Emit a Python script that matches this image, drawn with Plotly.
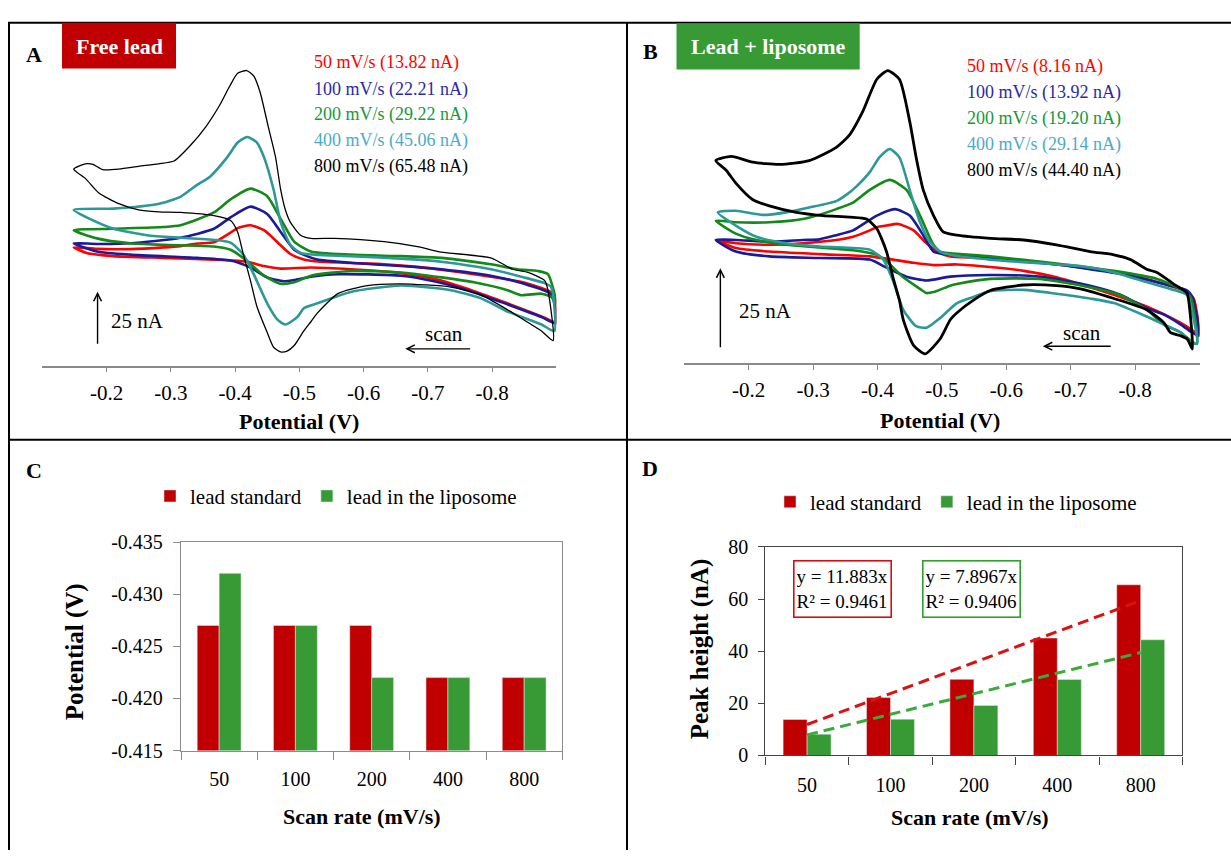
import plotly.graph_objects as go

W, H = 1231, 861
SERIF = "Liberation Serif, Times New Roman, Times, serif"

# ---------------- data ----------------
# Panel A (free lead): cyclic voltammograms, potential (V) and current (nA)
A_V_50 = [-0.895, -0.850, -0.798, -0.736, -0.684, -0.632, -0.580, -0.528, -0.507, -0.486, -0.466, -0.445, -0.424, -0.404, -0.393, -0.367, -0.341, -0.315, -0.289, -0.237, -0.185, -0.149, -0.169, -0.211, -0.289, -0.367, -0.393, -0.419, -0.445, -0.471, -0.518, -0.580, -0.658, -0.710, -0.772, -0.824, -0.877, -0.900, -0.895]
A_I_50 = [33.6, 38.8, 41.5, 44.2, 46.1, 47.3, 47.9, 48.6, 49.5, 52.1, 57.6, 63.2, 65.5, 64.2, 62.1, 57.6, 57.0, 55.8, 55.2, 54.4, 54.5, 55.2, 52.6, 51.1, 50.3, 49.5, 49.1, 48.5, 46.5, 45.3, 45.8, 45.0, 43.2, 40.5, 34.8, 29.1, 23.0, 20.3, 33.6]

A_V_100 = [-0.892, -0.850, -0.798, -0.721, -0.658, -0.580, -0.528, -0.512, -0.492, -0.471, -0.450, -0.424, -0.393, -0.367, -0.315, -0.237, -0.185, -0.149, -0.185, -0.237, -0.341, -0.393, -0.424, -0.450, -0.476, -0.492, -0.518, -0.560, -0.658, -0.710, -0.772, -0.824, -0.877, -0.900, -0.892]
A_I_100 = [33.3, 38.2, 42.0, 45.0, 46.5, 48.0, 49.5, 51.1, 54.1, 62.4, 70.8, 74.2, 69.2, 63.9, 59.7, 57.1, 56.8, 57.1, 53.3, 51.8, 50.3, 49.1, 45.8, 41.2, 39.4, 40.0, 41.5, 42.7, 42.0, 39.4, 34.2, 28.6, 22.7, 19.7, 33.3]

A_V_200 = [-0.900, -0.887, -0.871, -0.840, -0.798, -0.721, -0.658, -0.580, -0.518, -0.492, -0.471, -0.450, -0.424, -0.393, -0.367, -0.315, -0.289, -0.211, -0.149, -0.185, -0.237, -0.289, -0.367, -0.393, -0.419, -0.445, -0.471, -0.492, -0.518, -0.580, -0.658, -0.721, -0.772, -0.824, -0.845, -0.877, -0.892, -0.900]
A_I_200 = [29.1, 42.7, 44.2, 45.0, 47.3, 50.3, 51.1, 51.8, 53.3, 57.9, 68.5, 79.1, 82.6, 77.6, 71.5, 65.5, 64.7, 63.9, 63.2, 59.4, 57.1, 56.4, 55.6, 54.1, 48.8, 42.0, 38.2, 38.9, 42.0, 44.2, 43.5, 41.2, 38.9, 35.2, 32.9, 33.6, 32.1, 29.1]

A_V_400 = [-0.892, -0.882, -0.850, -0.798, -0.721, -0.684, -0.580, -0.502, -0.486, -0.471, -0.460, -0.445, -0.434, -0.419, -0.404, -0.388, -0.361, -0.341, -0.315, -0.278, -0.211, -0.149, -0.174, -0.211, -0.263, -0.315, -0.372, -0.393, -0.413, -0.429, -0.450, -0.466, -0.478, -0.497, -0.507, -0.528, -0.580, -0.658, -0.736, -0.783, -0.824, -0.877, -0.897, -0.892]
A_I_400 = [36.7, 38.5, 41.2, 45.0, 48.5, 49.5, 51.1, 52.6, 56.4, 67.0, 82.1, 97.3, 104.1, 106.7, 104.1, 97.3, 88.2, 84.4, 78.8, 75.3, 73.3, 72.7, 68.5, 63.9, 60.9, 59.7, 58.6, 57.4, 51.8, 42.7, 29.1, 21.5, 19.2, 22.7, 26.8, 29.1, 34.4, 37.4, 35.2, 31.4, 25.3, 19.2, 16.2, 36.7]

A_V_800 = [-0.887, -0.882, -0.856, -0.832, -0.798, -0.721, -0.684, -0.632, -0.554, -0.518, -0.502, -0.486, -0.478, -0.471, -0.463, -0.451, -0.439, -0.429, -0.418, -0.404, -0.392, -0.376, -0.355, -0.330, -0.305, -0.281, -0.250, -0.219, -0.194, -0.179, -0.167, -0.149,
           -0.167, -0.188, -0.219, -0.250, -0.281, -0.315, -0.367, -0.393, -0.404, -0.413, -0.424, -0.434, -0.450, -0.460, -0.471, -0.481, -0.492, -0.507, -0.518, -0.528, -0.560, -0.606, -0.658, -0.736, -0.783, -0.824, -0.861, -0.877, -0.895, -0.887]
A_I_800 = [35.2, 39.7, 43.5, 45.0, 50.3, 53.0, 55.6, 57.9, 59.4, 59.4, 60.9, 67.0, 73.0, 82.1, 97.3, 112.4, 127.6, 135.2, 137.7, 136.4, 130.6, 121.5, 111.7, 102.6, 95.5, 94.2, 93.0, 91.7, 91.5, 93.9, 94.2, 91.7,
           87.4, 80.6, 75.6, 72.7, 71.8, 71.5, 70.0, 67.7, 62.4, 51.8, 39.7, 27.6, 15.5, 8.6, 6.4, 6.8, 9.4, 16.2, 20.5, 24.5, 33.6, 37.4, 38.2, 36.7, 32.9, 26.1, 19.2, 16.2, 11.7, 35.2]

# Panel B (lead + liposome)
B_V_50 = [-0.891, -0.881, -0.845, -0.777, -0.678, -0.575, -0.513, -0.497, -0.476, -0.456, -0.432, -0.414, -0.399, -0.388, -0.362, -0.336, -0.284, -0.232, -0.180, -0.149, -0.180, -0.232, -0.310, -0.388, -0.424, -0.456, -0.487, -0.523, -0.575, -0.627, -0.678, -0.730, -0.777, -0.818, -0.871, -0.891, -0.899, -0.891]
B_I_50 = [20.2, 22.2, 24.7, 28.1, 30.8, 32.8, 33.3, 34.3, 37.4, 41.4, 43.4, 42.9, 42.4, 41.4, 39.4, 38.4, 37.4, 36.9, 37.4, 38.4, 35.9, 34.8, 34.0, 33.3, 32.3, 31.3, 30.6, 30.8, 30.0, 28.8, 26.8, 23.7, 20.7, 17.7, 12.6, 10.1, 9.1, 20.2]

B_V_100 = [-0.889, -0.881, -0.845, -0.793, -0.715, -0.678, -0.575, -0.513, -0.487, -0.471, -0.450, -0.427, -0.399, -0.362, -0.336, -0.310, -0.284, -0.232, -0.180, -0.149, -0.180, -0.232, -0.310, -0.388, -0.414, -0.445, -0.476, -0.513, -0.575, -0.652, -0.730, -0.777, -0.818, -0.845, -0.871, -0.889, -0.899, -0.889]
B_I_100 = [20.7, 22.7, 24.7, 27.3, 29.8, 30.8, 32.8, 33.8, 34.8, 39.9, 46.0, 48.0, 46.0, 41.4, 39.9, 38.6, 38.4, 37.9, 38.4, 38.4, 34.8, 33.3, 32.8, 32.3, 29.8, 27.0, 25.8, 27.0, 27.5, 27.0, 24.2, 21.4, 17.2, 15.2, 12.1, 9.6, 8.6, 20.7]

B_V_200 = [-0.886, -0.871, -0.834, -0.767, -0.678, -0.575, -0.513, -0.497, -0.487, -0.466, -0.445, -0.419, -0.388, -0.362, -0.336, -0.284, -0.232, -0.180, -0.149, -0.180, -0.212, -0.258, -0.310, -0.362, -0.399, -0.414, -0.440, -0.466, -0.476, -0.487, -0.513, -0.523, -0.575, -0.652, -0.730, -0.777, -0.818, -0.845, -0.871, -0.886, -0.896, -0.886]
B_I_200 = [20.7, 23.2, 26.3, 28.8, 31.1, 33.3, 34.3, 34.8, 36.9, 46.0, 54.0, 57.1, 54.0, 50.0, 48.0, 44.9, 43.9, 43.9, 44.4, 40.4, 38.4, 36.9, 36.1, 35.2, 33.8, 31.8, 26.8, 23.2, 21.9, 22.2, 24.2, 24.7, 26.3, 26.3, 23.7, 21.2, 16.7, 12.1, 9.6, 7.1, 6.1, 20.7]

B_V_400 = [-0.881, -0.871, -0.818, -0.767, -0.715, -0.678, -0.575, -0.513, -0.497, -0.481, -0.466, -0.450, -0.434, -0.419, -0.403, -0.388, -0.367, -0.352, -0.336, -0.294, -0.258, -0.222, -0.180, -0.152, -0.180, -0.212, -0.258, -0.310, -0.362, -0.388, -0.409, -0.424, -0.440, -0.460, -0.476, -0.497, -0.523, -0.549, -0.575, -0.627, -0.678, -0.730, -0.767, -0.818, -0.845, -0.871, -0.886, -0.896, -0.881]
B_I_400 = [21.2, 22.2, 25.3, 28.3, 30.3, 30.8, 32.3, 33.8, 34.8, 37.9, 43.9, 54.0, 64.1, 66.7, 64.1, 59.5, 55.0, 52.5, 50.5, 48.5, 47.0, 46.2, 47.5, 47.0, 42.9, 39.4, 37.4, 36.4, 35.9, 35.4, 32.3, 25.8, 16.7, 11.6, 11.1, 14.1, 18.7, 20.7, 22.5, 22.9, 21.7, 20.2, 18.8, 14.6, 12.1, 9.6, 6.6, 6.1, 21.2]

B_V_800 = [-0.881, -0.876, -0.860, -0.834, -0.818, -0.793, -0.767, -0.730, -0.678, -0.627, -0.575, -0.523, -0.502, -0.487, -0.471, -0.460, -0.450, -0.434, -0.416, -0.399, -0.377, -0.357, -0.336, -0.294, -0.248, -0.206, -0.173, -0.149,
           -0.165, -0.180, -0.206, -0.232, -0.274, -0.315, -0.357, -0.383, -0.399, -0.414, -0.424, -0.434, -0.440, -0.456, -0.474, -0.497, -0.513, -0.523, -0.549, -0.575, -0.627, -0.678, -0.715, -0.767, -0.818, -0.845, -0.855, -0.871, -0.881, -0.889, -0.881]
B_I_800 = [21.7, 22.7, 24.7, 28.3, 29.3, 32.3, 33.8, 34.8, 36.9, 38.4, 38.9, 39.9, 40.9, 46.0, 54.0, 64.1, 75.3, 88.4, 91.1, 88.4, 78.3, 71.2, 67.2, 63.1, 61.9, 62.6, 64.4, 63.1,
           60.1, 56.1, 51.0, 49.0, 47.0, 46.0, 45.5, 44.9, 41.9, 34.8, 26.8, 19.7, 13.6, 5.6, 3.0, 7.6, 13.6, 15.7, 19.7, 22.7, 24.4, 24.2, 23.2, 20.2, 16.7, 12.6, 9.6, 8.6, 7.6, 4.5, 21.7]

cv_line_colors = ["#ff0000", "#1a1a9a", "#138a18", "#2c9898", "#000000"]
cv_text_colors = ["#ff0000", "#2a2aa8", "#16993a", "#4bacc6", "#000000"]
A_labels = ["50 mV/s (13.82 nA)", "100 mV/s (22.21 nA)", "200 mV/s (29.22 nA)", "400 mV/s (45.06 nA)", "800 mV/s (65.48 nA)"]
B_labels = ["50 mV/s (8.16 nA)", "100 mV/s (13.92 nA)", "200 mV/s (19.20 nA)", "400 mV/s (29.14 nA)", "800 mV/s (44.40 nA)"]
potential_ticks = [-0.2, -0.3, -0.4, -0.5, -0.6, -0.7, -0.8]
potential_ticktext = ["-0.2", "-0.3", "-0.4", "-0.5", "-0.6", "-0.7", "-0.8"]

# Panels C and D
scan_rates = ["50", "100", "200", "400", "800"]
peak_potential_standard = [-0.427, -0.427, -0.427, -0.422, -0.422]
peak_potential_liposome = [-0.432, -0.427, -0.422, -0.422, -0.422]
C_ticks = [-0.435, -0.430, -0.425, -0.420, -0.415]
C_ticktext = ["-0.435", "-0.430", "-0.425", "-0.420", "-0.415"]
peak_height_standard = [13.82, 22.21, 29.22, 45.06, 65.48]
peak_height_liposome = [8.16, 13.92, 19.20, 29.14, 44.40]
slope_standard, r2_standard = 11.883, 0.9461
slope_liposome, r2_liposome = 7.8967, 0.9406

RED_BAR = "#c00000"
GREEN_BAR = "#379a35"

# ---------------- helpers ----------------
def fx(p):
    return p / W

def fy(p):
    return 1 - p / H

fig = go.Figure()

def add_cv(V, I, color, width, xa, ya):
    fig.add_trace(go.Scatter(x=V, y=I, mode="lines",
                             line=dict(color=color, width=width, shape="spline", smoothing=0.6),
                             xaxis=xa, yaxis=ya, showlegend=False, hoverinfo="skip"))

A_curves = [(A_V_50, A_I_50), (A_V_100, A_I_100), (A_V_200, A_I_200), (A_V_400, A_I_400), (A_V_800, A_I_800)]
B_curves = [(B_V_50, B_I_50), (B_V_100, B_I_100), (B_V_200, B_I_200), (B_V_400, B_I_400), (B_V_800, B_I_800)]
for k, (V, I) in enumerate(A_curves):
    add_cv(V, I, cv_line_colors[k], 1.3 if k == 4 else 2.6, "x", "y")
for k, (V, I) in enumerate(B_curves):
    add_cv(V, I, cv_line_colors[k], 2.8 if k == 4 else 2.6, "x2", "y2")

# Panel C bars
fig.add_trace(go.Bar(x=scan_rates, y=peak_potential_standard, name="lead standard", marker_color=RED_BAR,
                     xaxis="x3", yaxis="y3", legend="legend", hoverinfo="skip"))
fig.add_trace(go.Bar(x=scan_rates, y=peak_potential_liposome, name="lead in the liposome", marker_color=GREEN_BAR,
                     xaxis="x3", yaxis="y3", legend="legend", hoverinfo="skip"))
# Panel D bars
fig.add_trace(go.Bar(x=scan_rates, y=peak_height_standard, name="lead standard", marker_color=RED_BAR,
                     xaxis="x4", yaxis="y4", legend="legend2", hoverinfo="skip"))
fig.add_trace(go.Bar(x=scan_rates, y=peak_height_liposome, name="lead in the liposome", marker_color=GREEN_BAR,
                     xaxis="x4", yaxis="y4", legend="legend2", hoverinfo="skip"))
# Panel D linear trend lines (y = slope * x, x = category index)
ends = [scan_rates[0], scan_rates[-1]]
fig.add_trace(go.Scatter(x=ends, y=[slope_standard * 1, slope_standard * len(scan_rates)], mode="lines",
                         line=dict(color="#dd1111", width=3, dash="11px,6px"), xaxis="x4", yaxis="y4",
                         showlegend=False, hoverinfo="skip"))
fig.add_trace(go.Scatter(x=ends, y=[slope_liposome * 1, slope_liposome * len(scan_rates)], mode="lines",
                         line=dict(color="#3aab3a", width=3, dash="11px,6px"), xaxis="x4", yaxis="y4",
                         showlegend=False, hoverinfo="skip"))

# ---------------- axes ----------------
cv_x = dict(range=[-0.1, -0.9], showline=True, linecolor="#8a8a8a", linewidth=1.5, ticks="outside",
            ticklen=5, tickwidth=1.2, tickcolor="#8a8a8a", tickvals=potential_ticks, ticktext=potential_ticktext,
            tickfont=dict(family=SERIF, size=21, color="black"), showgrid=False, zeroline=False,
            ticklabelstandoff=2)
bar_common = dict(showline=True, mirror=True, ticks="outside", showgrid=False, zeroline=False,
                  tickfont=dict(family=SERIF, size=20, color="black"))

fig.update_layout(
    width=W, height=H, margin=dict(l=0, r=0, t=0, b=0), autosize=False,
    font=dict(family=SERIF, color="black"),
    paper_bgcolor="white", plot_bgcolor="white",
    bargap=0.425, bargroupgap=0,
    xaxis=dict(domain=[fx(42.3), fx(556.3)], anchor="y", **cv_x),
    yaxis=dict(domain=[fy(364), fy(40)], range=[0, 147.3], visible=False, anchor="x"),
    xaxis2=dict(domain=[fx(684.3), fx(1199.5)], anchor="y2", **cv_x),
    yaxis2=dict(domain=[fy(361.7), fy(40)], range=[0, 97.5], visible=False, anchor="x2"),
    xaxis3=dict(domain=[fx(181), fx(562.3)], anchor="y3", type="category", tickson="boundaries",
                ticklen=8, linecolor="#8c8c8c", tickcolor="#8c8c8c", linewidth=1.3, ticklabelstandoff=10,
                **bar_common),
    yaxis3=dict(domain=[fy(759), fy(545)], anchor="x3", range=[-0.415, -0.435], tickvals=C_ticks,
                ticktext=C_ticktext, ticklen=7, linecolor="#8c8c8c", tickcolor="#8c8c8c", linewidth=1.3,
                ticklabelstandoff=6, **bar_common),
    xaxis4=dict(domain=[fx(765.4), fx(1182.4)], anchor="y4", type="category", tickson="boundaries",
                ticklen=8, linecolor="#444444", tickcolor="#444444", linewidth=1.3, ticklabelstandoff=11,
                **bar_common),
    yaxis4=dict(domain=[fy(764), fy(550)], anchor="x4", range=[0, 80], dtick=20, ticklen=6,
                linecolor="#444444", tickcolor="#444444", linewidth=1.3, ticklabelstandoff=6, **bar_common),
    legend=dict(x=fx(150), y=fy(498), xanchor="left", yanchor="middle", orientation="h",
                font=dict(family=SERIF, size=21, color="black"), bgcolor="rgba(0,0,0,0)"),
    legend2=dict(x=fx(770), y=fy(504), xanchor="left", yanchor="middle", orientation="h",
                 font=dict(family=SERIF, size=21, color="black"), bgcolor="rgba(0,0,0,0)"),
)

# ---------------- frame, boxes ----------------
shapes = []
line_k = dict(color="black", width=2)
shapes.append(dict(type="line", xref="paper", yref="paper", x0=fx(8), x1=1, y0=fy(12), y1=fy(12), line=line_k))
shapes.append(dict(type="line", xref="paper", yref="paper", x0=fx(9), x1=fx(9), y0=fy(12), y1=0, line=line_k))
shapes.append(dict(type="line", xref="paper", yref="paper", x0=fx(627), x1=fx(627), y0=fy(12), y1=0, line=line_k))
shapes.append(dict(type="line", xref="paper", yref="paper", x0=fx(9), x1=1, y0=fy(440), y1=fy(440), line=line_k))
shapes.append(dict(type="rect", xref="paper", yref="paper", x0=fx(62), x1=fx(176), y0=fy(59), y1=fy(12),
                   fillcolor=RED_BAR, line=dict(width=0)))
shapes.append(dict(type="rect", xref="paper", yref="paper", x0=fx(676.5), x1=fx(859.7), y0=fy(60), y1=fy(12.5),
                   fillcolor=GREEN_BAR, line=dict(width=0)))
fig.update_layout(shapes=shapes)

# ---------------- annotations ----------------
ann = []

def text(t, x, y, size, color="black", xanchor="center", angle=0, **kw):
    ann.append(dict(text=t, x=fx(x), y=fy(y), xref="paper", yref="paper", showarrow=False,
                    xanchor=xanchor, yanchor="middle", textangle=angle,
                    font=dict(family=SERIF, size=size, color=color), **kw))

text("<b>A</b>", 33.6, 45, 22)
text("<b>B</b>", 650, 42, 22)
text("<b>C</b>", 33.6, 472, 22)
text("<b>D</b>", 650, 469, 22)
text("<b>Free lead</b>", 119, 36, 22, "white")
text("<b>Lead + liposome</b>", 768, 36, 22, "white")

A_label_y = [53.3, 80.7, 106.7, 133.3, 160]
B_label_y = [57.3, 84, 110, 136.7, 163.3]
for k in range(5):
    text(A_labels[k], 312.4, A_label_y[k], 18, cv_text_colors[k], xanchor="left")
    text(B_labels[k], 965, B_label_y[k], 18, cv_text_colors[k], xanchor="left")

text("<b>Potential (V)</b>", 299, 421, 22)
text("<b>Potential (V)</b>", 940.3, 420.7, 22)
text("25 nA", 137.5, 318, 21)
text("25 nA", 765.2, 308, 21)
text("scan", 443.6, 331, 21)
text("scan", 1082.4, 330, 21)

text("<b>Scan rate (mV/s)</b>", 362, 826.7, 22)
text("<b>Scan rate (mV/s)</b>", 970, 828, 22)
text("<b>Potential (V)</b>", 75, 658, 25, angle=-90)
text("<b>Peak height (nA)</b>", 700, 655, 25, angle=-90)

# regression boxes in D
for (cx, col, s, r2) in [(842.9, "#d01010", slope_standard, r2_standard),
                         (971.1, "#2ea02e", slope_liposome, r2_liposome)]:
    ann.append(dict(text=f"y = {s}x<br>R² = {r2}", x=fx(cx), y=fy(593), xref="paper", yref="paper",
                    showarrow=False, xanchor="center", yanchor="middle", align="left",
                    width=92, height=51, borderpad=2, bordercolor=col, borderwidth=1.6,
                    bgcolor="white", font=dict(family=SERIF, size=19, color="black")))

# scale bars (25 nA in data units)
ann.append(dict(x=-0.186, y=34.5, ax=-0.186, ay=9.5, xref="x", yref="y", axref="x", ayref="y",
                showarrow=True, arrowhead=5, arrowsize=1.1, arrowwidth=1.4, arrowcolor="black", text=""))
ann.append(dict(x=-0.156, y=29.6, ax=-0.156, ay=4.6, xref="x2", yref="y2", axref="x2", ayref="y2",
                showarrow=True, arrowhead=5, arrowsize=1.1, arrowwidth=1.4, arrowcolor="black", text=""))
# scan direction arrows
ann.append(dict(x=fx(405.3), y=fy(346.7), xref="paper", yref="paper", ax=66.4, ay=0,
                showarrow=True, arrowhead=5, arrowsize=1.1, arrowwidth=1.4, arrowcolor="black", text=""))
ann.append(dict(x=fx(1042.8), y=fy(344), xref="paper", yref="paper", ax=69.4, ay=0,
                showarrow=True, arrowhead=5, arrowsize=1.1, arrowwidth=1.4, arrowcolor="black", text=""))

fig.update_layout(annotations=ann)
fig.write_html("out.html")
